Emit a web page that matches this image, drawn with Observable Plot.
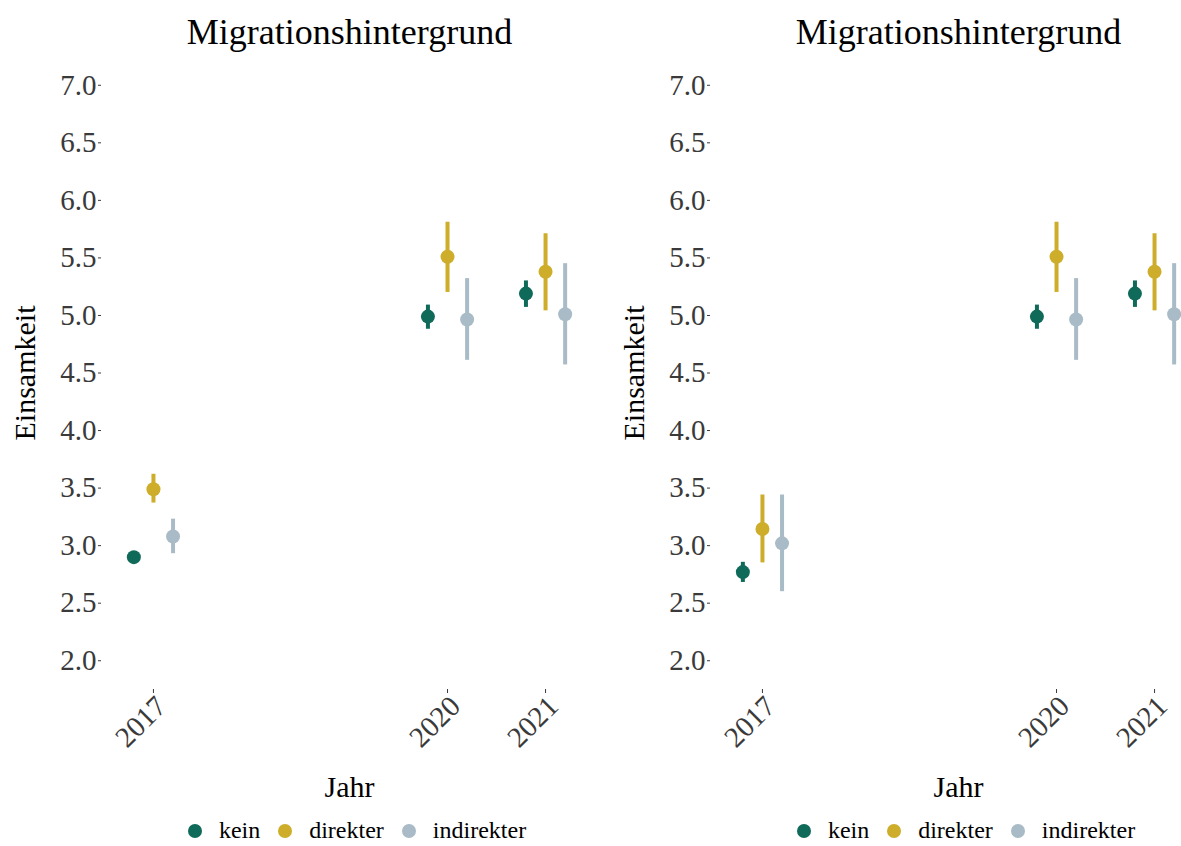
<!DOCTYPE html>
<html>
<head>
<meta charset="utf-8">
<script src="https://cdn.jsdelivr.net/npm/d3@7"></script>
<script src="https://cdn.jsdelivr.net/npm/@observablehq/plot@0.6"></script>
<style>
  html, body { margin: 0; padding: 0; background: #fff; }
  #root { position: relative; width: 1181px; height: 846px; overflow: hidden; background: #fff; }
  .col { position: absolute; top: 0; width: 609px; height: 846px; }
  .col svg { position: absolute; top: 0; left: 0; }
  .col svg, .col svg text, .col svg g { font-family: "Liberation Serif", "Times New Roman", serif !important; }
  .legend { position: absolute; top: 817px; left: 112px; width: 490px; display: flex; justify-content: center; align-items: center;
    font-family: "Liberation Serif", "Times New Roman", serif; font-size: 24px; color: #000; }
  .legend .item { display: flex; align-items: center; margin: 0 9px; }
  .legend .sw { width: 14px; height: 14px; border-radius: 50%; margin-right: 17px; }
</style>
</head>
<body>
<div id="root"></div>
<script>
const years = [2017, 2020, 2021];
const groups = ["kein", "direkter", "indirekter"];
const colors = ["#0f6a59", "#cdad29", "#a9bbc6"];
const yTicks = [2.0, 2.5, 3.0, 3.5, 4.0, 4.5, 5.0, 5.5, 6.0, 6.5, 7.0];
const title = "Migrationshintergrund";
const xLabel = "Jahr";
const yLabel = "Einsamkeit";

// Left panel
const leftMean = { kein: [2.90, 4.99, 5.19], direkter: [3.49, 5.51, 5.38], indirekter: [3.08, 4.965, 5.01] };
const leftLow  = { kein: [2.88, 4.88, 5.07], direkter: [3.37, 5.20, 5.04], indirekter: [2.93, 4.61, 4.57] };
const leftHigh = { kein: [2.92, 5.09, 5.30], direkter: [3.62, 5.81, 5.71], indirekter: [3.23, 5.32, 5.45] };

// Right panel
const rightMean = { kein: [2.77, 4.99, 5.19], direkter: [3.145, 5.51, 5.38], indirekter: [3.02, 4.965, 5.01] };
const rightLow  = { kein: [2.68, 4.88, 5.07], direkter: [2.85, 5.20, 5.04], indirekter: [2.60, 4.61, 4.57] };
const rightHigh = { kein: [2.855, 5.09, 5.30], direkter: [3.44, 5.81, 5.71], indirekter: [3.44, 5.32, 5.45] };

const serif = '"Liberation Serif", "Times New Roman", serif';
const dodge = [-19.6, 0, 19.6];

function panel(mean, low, high) {
  const rows = [];
  groups.forEach(g => years.forEach((yr, i) => rows.push({ group: g, year: yr, mean: mean[g][i], low: low[g][i], high: high[g][i] })));
  const marks = [];
  groups.forEach((g, gi) => {
    const d = rows.filter(r => r.group === g);
    marks.push(Plot.ruleX(d, { x: "year", y1: "low", y2: "high", stroke: colors[gi], strokeWidth: 4, dx: dodge[gi] }));
    marks.push(Plot.dot(d, { x: "year", y: "mean", r: 7, fill: colors[gi], stroke: "none", dx: dodge[gi] }));
  });
  marks.push(Plot.axisY({ ticks: yTicks, tickFormat: d3.format(".1f"), tickSize: 3, tickPadding: 2, fontSize: 29, fontFamily: serif, color: "#3a3a3a", label: null }));
  marks.push(Plot.axisX({ ticks: years, tickFormat: () => "", tickSize: 4, color: "#3a3a3a", label: null }));
  marks.push(Plot.axisX({ ticks: years, tickFormat: d => String(d), tickRotate: -45, tickSize: 0, tickPadding: 8, dx: 8, dy: 4, fontSize: 29, fontFamily: serif, color: "#3a3a3a", label: null }));
  marks.push(Plot.text([title], { frameAnchor: "top", dy: -38, fontSize: 36, fontFamily: serif, fill: "#000", textAnchor: "middle" }));
  marks.push(Plot.text([xLabel], { frameAnchor: "bottom", dy: 107, fontSize: 30, fontFamily: serif, fill: "#000", textAnchor: "middle" }));
  marks.push(Plot.text([yLabel], { frameAnchor: "left", dx: -76, rotate: -90, fontSize: 30, fontFamily: serif, fill: "#000", textAnchor: "middle" }));
  return Plot.plot({
    width: 609, height: 846,
    marginLeft: 101, marginRight: 12, marginTop: 56, marginBottom: 157,
    style: { fontFamily: serif, background: "transparent" },
    x: { type: "linear", domain: [2016.47, 2021.53] },
    y: { domain: [1.75, 7.25] },
    marks
  });
}

function legend() {
  const div = document.createElement("div");
  div.className = "legend";
  groups.forEach((g, i) => {
    const it = document.createElement("div");
    it.className = "item";
    const sw = document.createElement("span");
    sw.className = "sw";
    sw.style.background = colors[i];
    const t = document.createElement("span");
    t.textContent = g;
    it.appendChild(sw); it.appendChild(t);
    div.appendChild(it);
  });
  return div;
}

const root = document.getElementById("root");
[[leftMean, leftLow, leftHigh, 0], [rightMean, rightLow, rightHigh, 609]].forEach(([m, l, h, left]) => {
  const col = document.createElement("div");
  col.className = "col";
  col.style.left = left + "px";
  col.appendChild(panel(m, l, h));
  col.appendChild(legend());
  root.appendChild(col);
});
</script>
</body>
</html>
